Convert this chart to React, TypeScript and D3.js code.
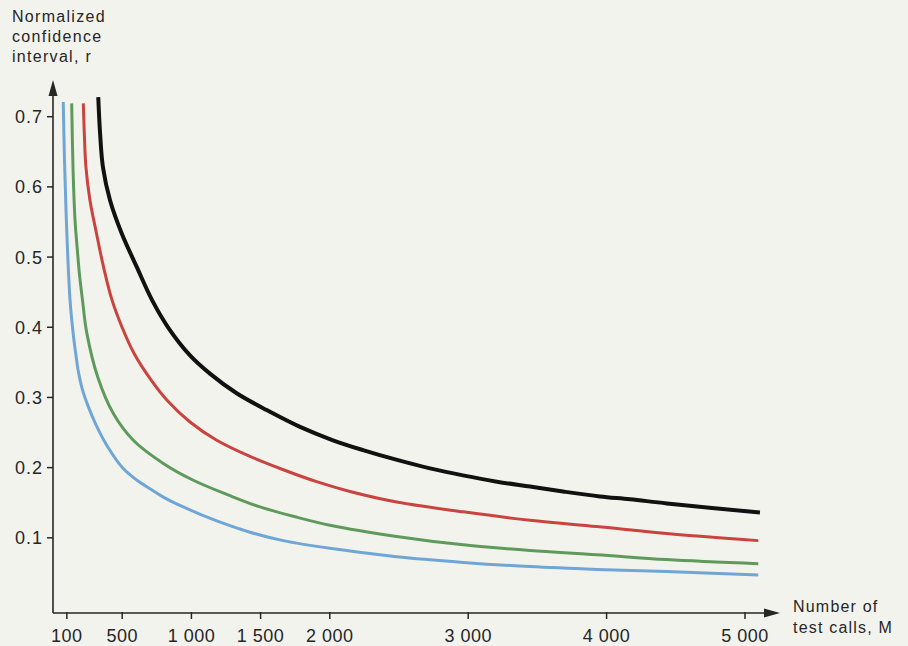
import React, { useEffect, useRef } from 'react';
import * as d3 from 'd3';

// [M, r] pairs
const blueCurve: [number, number][] = [
  [74, 0.721], [83, 0.638], [94, 0.567], [105, 0.51], [123, 0.439], [147, 0.389],
  [166, 0.36], [181, 0.339], [210, 0.313], [253, 0.288], [311, 0.261], [397, 0.229],
  [506, 0.199], [607, 0.182], [701, 0.17], [797, 0.158], [941, 0.144], [1183, 0.124],
  [1423, 0.108], [1664, 0.096], [2001, 0.085], [2483, 0.073], [2965, 0.065], [3447, 0.059],
  [3928, 0.055], [4434, 0.052], [5096, 0.047],
];
const greenCurve: [number, number][] = [
  [135, 0.719], [145, 0.624], [159, 0.553], [176, 0.51], [192, 0.474], [213, 0.439],
  [244, 0.392], [325, 0.328], [436, 0.277], [580, 0.239], [797, 0.206], [1014, 0.182],
  [1279, 0.16], [1496, 0.144], [1749, 0.13], [2001, 0.118], [2483, 0.102], [2965, 0.09],
  [3447, 0.082], [3928, 0.076], [4434, 0.069], [5096, 0.063],
];
const redCurve: [number, number][] = [
  [219, 0.719], [226, 0.677], [238, 0.628], [267, 0.581], [314, 0.534], [365, 0.486],
  [426, 0.439], [499, 0.4], [585, 0.363], [708, 0.325], [824, 0.296], [990, 0.265],
  [1183, 0.239], [1423, 0.216], [1664, 0.197], [1905, 0.18], [2146, 0.166], [2483, 0.151],
  [2965, 0.137], [3447, 0.125], [3928, 0.116], [4434, 0.106], [5096, 0.096],
];
const blackCurve: [number, number][] = [
  [327, 0.728], [340, 0.677], [361, 0.628], [412, 0.581], [496, 0.534], [605, 0.486],
  [715, 0.439], [831, 0.4], [990, 0.36], [1134, 0.334], [1327, 0.306], [1544, 0.282],
  [1785, 0.258], [2023, 0.239], [2240, 0.225], [2486, 0.211], [2724, 0.199], [2962, 0.189],
  [3208, 0.18], [3447, 0.173], [3685, 0.166], [3952, 0.159], [4169, 0.155], [4436, 0.149],
  [5108, 0.136],
];

const xTicks = [100, 500, 1000, 1500, 2000, 3000, 4000, 5000];
const xTickLabels = ['100', '500', '1 000', '1 500', '2 000', '3 000', '4 000', '5 000'];
const yTicks = [0.1, 0.2, 0.3, 0.4, 0.5, 0.6, 0.7];
const yTitle = ['Normalized', 'confidence', 'interval, r'];
const xTitle = ['Number of', 'test calls, M'];

const series = [
  { data: blueCurve, color: '#6fa6d6', width: 3 },
  { data: greenCurve, color: '#5e9a5c', width: 3 },
  { data: redCurve, color: '#c9433f', width: 3 },
  { data: blackCurve, color: '#111111', width: 4 },
];

const W = 908;
const H = 646;

export default function App() {
  const ref = useRef<SVGSVGElement>(null);

  useEffect(() => {
    const svg = d3.select(ref.current);
    svg.selectAll('*').remove();

    const axisX = 53;
    const axisY = 613;
    const ink = '#262626';
    const font = '"Liberation Sans", Arial, sans-serif';

    const x = d3.scaleLinear().domain([0, 5000]).range([axisX, 745]);
    const y = d3.scaleLinear().domain([0, 0.7]).range([608, 116.7]);

    svg.append('rect').attr('width', W).attr('height', H).attr('fill', '#f3f3ee');

    // axes with arrow heads
    svg.append('line')
      .attr('x1', axisX).attr('x2', axisX).attr('y1', axisY).attr('y2', 94)
      .attr('stroke', ink).attr('stroke-width', 1.6);
    svg.append('path')
      .attr('d', `M${axisX},80 L${axisX - 4.5},96 L${axisX + 4.5},96 Z`)
      .attr('fill', ink);
    svg.append('line')
      .attr('x1', axisX).attr('x2', 766).attr('y1', axisY).attr('y2', axisY)
      .attr('stroke', ink).attr('stroke-width', 1.6);
    svg.append('path')
      .attr('d', `M780,${axisY} L764,${axisY - 4.5} L764,${axisY + 4.5} Z`)
      .attr('fill', ink);

    // y ticks
    const yg = svg.append('g');
    yTicks.forEach((t) => {
      yg.append('line')
        .attr('x1', axisX - 6).attr('x2', axisX).attr('y1', y(t)).attr('y2', y(t))
        .attr('stroke', ink).attr('stroke-width', 1.5);
      yg.append('text')
        .attr('x', axisX - 10).attr('y', y(t)).attr('dy', '0.36em')
        .attr('text-anchor', 'end')
        .attr('font-family', font).attr('font-size', 18).attr('letter-spacing', 1)
        .attr('fill', ink)
        .text(t.toFixed(1));
    });

    // x ticks
    const xg = svg.append('g');
    xTicks.forEach((t, i) => {
      xg.append('line')
        .attr('x1', x(t)).attr('x2', x(t)).attr('y1', axisY - 1).attr('y2', axisY + 6)
        .attr('stroke', ink).attr('stroke-width', 1.5);
      xg.append('text')
        .attr('x', x(t)).attr('y', 642)
        .attr('text-anchor', 'middle')
        .attr('font-family', font).attr('font-size', 18).attr('letter-spacing', 0.5)
        .attr('fill', ink)
        .text(xTickLabels[i]);
    });

    // axis titles
    yTitle.forEach((s, i) => {
      svg.append('text')
        .attr('x', 12).attr('y', 22 + i * 20)
        .attr('font-family', font).attr('font-size', 16).attr('letter-spacing', 1.3)
        .attr('fill', ink).text(s);
    });
    xTitle.forEach((s, i) => {
      svg.append('text')
        .attr('x', 793).attr('y', 612 + i * 21)
        .attr('font-family', font).attr('font-size', 16).attr('letter-spacing', 1.2)
        .attr('fill', ink).text(s);
    });

    // curves
    const line = d3.line<[number, number]>()
      .x((d) => x(d[0]))
      .y((d) => y(d[1]))
      .curve(d3.curveCatmullRom.alpha(0.5));

    series.forEach((s) => {
      svg.append('path')
        .datum(s.data)
        .attr('d', line)
        .attr('fill', 'none')
        .attr('stroke', s.color)
        .attr('stroke-width', s.width)
        .attr('stroke-linejoin', 'round');
    });
  }, []);

  return (
    <div style={{ position: 'absolute', left: 0, top: 0 }}>
      <svg ref={ref} width={W} height={H} style={{ display: 'block' }} />
    </div>
  );
}
